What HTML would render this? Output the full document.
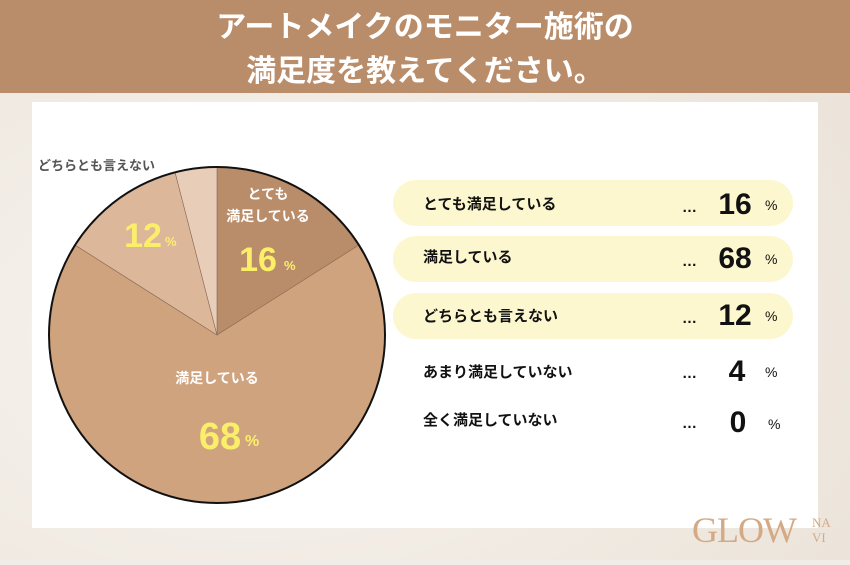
<!DOCTYPE html>
<html><head><meta charset="utf-8"><style>
body{margin:0;width:850px;height:560px;overflow:hidden;background:#f1ece6;font-family:"Liberation Sans","Noto Sans CJK JP",sans-serif}
svg text{font-family:"Liberation Sans","Noto Sans CJK JP",sans-serif}
svg text.serif{font-family:"Liberation Serif",serif}
svg text.num{font-family:"Liberation Sans Narrow","Liberation Sans",sans-serif}
</style></head><body>
<svg width="850" height="560" viewBox="0 0 850 560">
<defs><radialGradient id="bg" cx="0.3" cy="0.6" r="0.8"><stop offset="0" stop-color="#f7f4f0"/><stop offset="1" stop-color="#ece4da"/></radialGradient></defs>
<rect width="850" height="560" fill="url(#bg)"/>
<rect width="850" height="93" fill="#b98c6a"/>
<text x="425" y="37" text-anchor="middle" font-size="30" font-weight="bold" fill="#fff">アートメイクのモニター施術の</text>
<text x="425" y="81" text-anchor="middle" font-size="30" font-weight="bold" fill="#fff">満足度を教えてください。</text>
<rect x="32" y="102" width="786" height="426" fill="#fff"/>
<g stroke="#8a6a55" stroke-width="0.6">
<path d="M217,335 L217,167 A168,168 0 0 1 359,245 Z" fill="#b98c6a"/>
<path d="M217,335 L359,245 A168,168 0 1 1 75,245 Z" fill="#d0a37f"/>
<path d="M217,335 L75,245 A168,168 0 0 1 175,172 Z" fill="#dcb79a"/>
<path d="M217,335 L175,172 A168,168 0 0 1 217,167 Z" fill="#e8cdb8"/>
</g>
<circle cx="217" cy="335" r="168" fill="none" stroke="#111" stroke-width="2"/>
<text x="38" y="170" font-size="13" font-weight="bold" fill="#555">どちらとも言えない</text>
<text x="268" y="199" text-anchor="middle" font-size="14" font-weight="bold" fill="#fff">とても</text>
<text x="268" y="221" text-anchor="middle" font-size="14" font-weight="bold" fill="#fff">満足している</text>
<text class="num" x="258" y="271" text-anchor="middle" font-size="34" font-weight="bold" fill="#fbef6a">16</text>
<text x="284" y="270" font-size="13" font-weight="bold" fill="#fbef6a">%</text>
<text class="num" x="143" y="247" text-anchor="middle" font-size="34" font-weight="bold" fill="#fbef6a">12</text>
<text x="165" y="246" font-size="13" font-weight="bold" fill="#fbef6a">%</text>
<text x="217" y="383" text-anchor="middle" font-size="14" font-weight="bold" fill="#fff">満足している</text>
<text class="num" x="220" y="449" text-anchor="middle" font-size="38" font-weight="bold" fill="#fbef6a">68</text>
<text x="245" y="446" font-size="16" font-weight="bold" fill="#fbef6a">%</text>
<rect x="393" y="180" width="400" height="46" rx="23" fill="#fdf7cf"/>
<rect x="393" y="236" width="400" height="46" rx="23" fill="#fdf7cf"/>
<rect x="393" y="293" width="400" height="46" rx="23" fill="#fdf7cf"/>
<g font-size="15" font-weight="bold" fill="#111">
<text x="423" y="209">とても満足している</text>
<text x="423" y="262">満足している</text>
<text x="423" y="321">どちらとも言えない</text>
<text x="423" y="377">あまり満足していない</text>
<text x="423" y="425">全く満足していない</text>
<g font-size="15"><text x="682" y="212">…</text><text x="682" y="266">…</text><text x="682" y="323">…</text><text x="682" y="378">…</text><text x="682" y="428">…</text></g>
<g font-size="30" text-anchor="middle"><text class="num" x="735" y="214">16</text><text class="num" x="735" y="268">68</text><text class="num" x="735" y="325">12</text><text class="num" x="737" y="381">4</text><text class="num" x="738" y="432">0</text></g>
<g font-size="14" font-weight="normal"><text x="765" y="210">%</text><text x="765" y="264">%</text><text x="765" y="321">%</text><text x="765" y="377">%</text><text x="768" y="429">%</text></g>
</g>
<text class="serif" x="692" y="542" font-size="36" fill="#d4aa86" letter-spacing="-1">GLOW</text>
<text class="serif" x="812" y="527" font-size="13" fill="#d4aa86">NA</text>
<text class="serif" x="812" y="542" font-size="13" fill="#d4aa86">VI</text>
</svg>
</body></html>
